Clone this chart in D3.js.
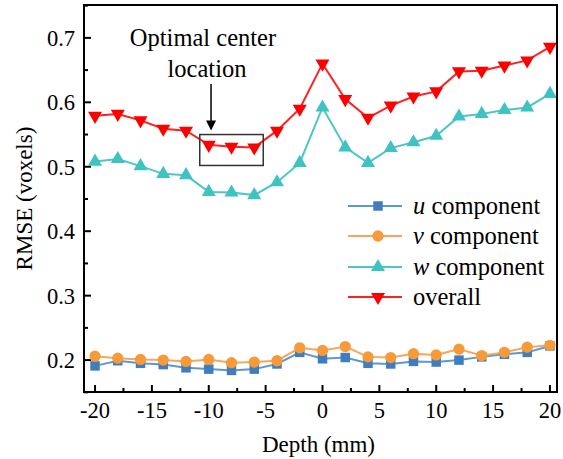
<!DOCTYPE html>
<html>
<head>
<meta charset="utf-8">
<script src="https://cdn.jsdelivr.net/npm/d3@7"></script>
<style>
  html, body { margin: 0; padding: 0; background: #fff; }
  svg { display: block; }
  svg text { font-family: "Liberation Serif", Tinos, "Times New Roman", Times, "DejaVu Serif", serif; }
</style>
</head>
<body>
<svg id="chart" width="563" height="459"></svg>
<script>
// Depth positions (mm)
const depth = [-20, -18, -16, -14, -12, -10, -8, -6, -4, -2, 0, 2, 4, 6, 8, 10, 12, 14, 16, 18, 20];

// RMSE per component (voxels)
const uComponent = [0.191, 0.199, 0.195, 0.193, 0.188, 0.186, 0.184, 0.186, 0.194, 0.212, 0.202,
                    0.204, 0.195, 0.194, 0.198, 0.197, 0.200, 0.205, 0.209, 0.212, 0.222];
const vComponent = [0.206, 0.203, 0.201, 0.200, 0.198, 0.201, 0.196, 0.197, 0.199, 0.219, 0.215,
                    0.221, 0.205, 0.204, 0.210, 0.208, 0.217, 0.207, 0.212, 0.220, 0.223];
const wComponent = [0.508, 0.512, 0.501, 0.489, 0.487, 0.461, 0.460, 0.456, 0.476, 0.506, 0.592,
                    0.530, 0.506, 0.529, 0.538, 0.548, 0.578, 0.582, 0.588, 0.592, 0.613];
const overall    = [0.579, 0.582, 0.572, 0.559, 0.556, 0.534, 0.531, 0.530, 0.556, 0.590, 0.660,
                    0.605, 0.576, 0.595, 0.609, 0.617, 0.648, 0.649, 0.657, 0.665, 0.686];

const xTicks = [-20, -15, -10, -5, 0, 5, 10, 15, 20];
const yTicks = [0.2, 0.3, 0.4, 0.5, 0.6, 0.7];

const series = [
  { name: "u", label: "component", values: uComponent, color: "#3f7dc0", line: "#5e98d2", marker: "square" },
  { name: "v", label: "component", values: vComponent, color: "#f79a3a", line: "#f7a65a", marker: "circle" },
  { name: "w", label: "component", values: wComponent, color: "#3ec2c2", line: "#4cc6c6", marker: "triangleUp" },
  { name: "", label: "overall", values: overall, color: "#ff0000", line: "#ff2020", marker: "triangleDown" }
];

const serif = '"Liberation Serif", Tinos, "Times New Roman", Times, "DejaVu Serif", serif';
const svg = d3.select("#chart").attr("font-family", serif);
const plotLeft = 84, plotRight = 557, plotTop = 5, plotBottom = 392;

const x = d3.scaleLinear().domain([-20.97, 20.62]).range([plotLeft, plotRight]);
const y = d3.scaleLinear().domain([0.1505, 0.751]).range([plotBottom, plotTop]);

// Minor ticks (inward)
const xMinor = d3.range(-20, 20.01, 2.5).filter(v => !xTicks.includes(v));
const yMinor = d3.range(0.15, 0.751, 0.1).map(v => +v.toFixed(2));

const axisG = svg.append("g");
axisG.selectAll(".xmaj").data(xTicks).join("line")
  .attr("x1", d => x(d)).attr("x2", d => x(d))
  .attr("y1", plotBottom).attr("y2", plotBottom - 7)
  .attr("stroke", "#000").attr("stroke-width", 2);
axisG.selectAll(".xmin").data(xMinor).join("line")
  .attr("x1", d => x(d)).attr("x2", d => x(d))
  .attr("y1", plotBottom).attr("y2", plotBottom - 4)
  .attr("stroke", "#000").attr("stroke-width", 2);
axisG.selectAll(".ymaj").data(yTicks).join("line")
  .attr("y1", d => y(d)).attr("y2", d => y(d))
  .attr("x1", plotLeft).attr("x2", plotLeft + 7)
  .attr("stroke", "#000").attr("stroke-width", 2);
axisG.selectAll(".ymin").data(yMinor).join("line")
  .attr("y1", d => y(d)).attr("y2", d => y(d))
  .attr("x1", plotLeft).attr("x2", plotLeft + 4)
  .attr("stroke", "#000").attr("stroke-width", 2);

// Tick labels
axisG.selectAll(".xl").data(xTicks).join("text")
  .attr("x", d => x(d)).attr("y", 418)
  .attr("text-anchor", "middle")
  .attr("font-size", 22.5).attr("fill", "#000")
  .text(d => d < 0 ? "-" + Math.abs(d) : d);
axisG.selectAll(".yl").data(yTicks).join("text")
  .attr("x", plotLeft - 9).attr("y", d => y(d))
  .attr("dy", "0.35em")
  .attr("text-anchor", "end")
  .attr("font-size", 22.5).attr("fill", "#000")
  .text(d => d.toFixed(1));

// Axis titles
svg.append("text")
  .attr("x", (plotLeft + plotRight) / 2 - 2).attr("y", 452)
  .attr("text-anchor", "middle").attr("font-size", 23)
  .text("Depth (mm)");
svg.append("text")
  .attr("transform", `translate(32, ${(plotTop + plotBottom) / 2}) rotate(-90)`)
  .attr("text-anchor", "middle").attr("font-size", 23)
  .text("RMSE (voxels)");

// Marker symbols
const symbolFor = {
  square: d3.symbol().type(d3.symbolSquare).size(90),
  circle: d3.symbol().type(d3.symbolCircle).size(100),
  triangleUp: d3.symbol().type(d3.symbolTriangle).size(85),
  triangleDown: d3.symbol().type(d3.symbolTriangle).size(85)
};
const rotFor = { square: 0, circle: 0, triangleUp: 0, triangleDown: 180 };

const line = d3.line().x((d, i) => x(depth[i])).y(d => y(d));

const plot = svg.append("g");
series.forEach(s => {
  plot.append("path")
    .datum(s.values)
    .attr("d", line)
    .attr("fill", "none")
    .attr("stroke", s.line)
    .attr("stroke-width", 2);
  plot.selectAll(null).data(s.values).join("path")
    .attr("d", symbolFor[s.marker]())
    .attr("transform", (d, i) => `translate(${x(depth[i])},${y(d)}) rotate(${rotFor[s.marker]})`)
    .attr("fill", s.color);
});

// Frame
svg.append("rect")
  .attr("x", plotLeft).attr("y", plotTop)
  .attr("width", plotRight - plotLeft).attr("height", plotBottom - plotTop)
  .attr("fill", "none").attr("stroke", "#000").attr("stroke-width", 2);

// Annotation: box around the minimum of the overall error
const bx0 = x(-10) - 9, bx1 = x(-6) + 9;
const by0 = y(0.55), by1 = y(0.502);
svg.append("rect")
  .attr("x", bx0).attr("y", by0)
  .attr("width", bx1 - bx0).attr("height", by1 - by0)
  .attr("fill", "none").attr("stroke", "#333").attr("stroke-width", 1.5);

const ax = x(-9.8);
svg.append("line")
  .attr("x1", ax).attr("x2", ax)
  .attr("y1", 84).attr("y2", by0 - 12)
  .attr("stroke", "#000").attr("stroke-width", 1.5);
svg.append("path")
  .attr("d", `M${ax - 5},${by0 - 14} L${ax + 5},${by0 - 14} L${ax},${by0 - 4} Z`)
  .attr("fill", "#000");

svg.append("text")
  .attr("x", 203).attr("y", 46)
  .attr("text-anchor", "middle").attr("font-size", 24.5)
  .text("Optimal center");
svg.append("text")
  .attr("x", 207).attr("y", 77)
  .attr("text-anchor", "middle").attr("font-size", 24.5)
  .text("location");

// Legend
const legend = svg.append("g");
const rowY = [206, 236, 267, 297];
series.forEach((s, i) => {
  const g = legend.append("g").attr("transform", `translate(0,${rowY[i]})`);
  g.append("line").attr("x1", 348).attr("x2", 402).attr("y1", 0).attr("y2", 0)
    .attr("stroke", s.line).attr("stroke-width", 2);
  g.append("path").attr("d", symbolFor[s.marker]())
    .attr("transform", `translate(378,0) rotate(${rotFor[s.marker]})`)
    .attr("fill", s.color);
  const t = g.append("text").attr("x", 413).attr("y", 0).attr("dy", "0.33em")
    .attr("font-size", 24.5);
  if (s.name) {
    t.append("tspan").attr("font-style", "italic").text(s.name);
    t.append("tspan").text(" " + s.label);
  } else {
    t.text(s.label);
  }
});
</script>
</body>
</html>
